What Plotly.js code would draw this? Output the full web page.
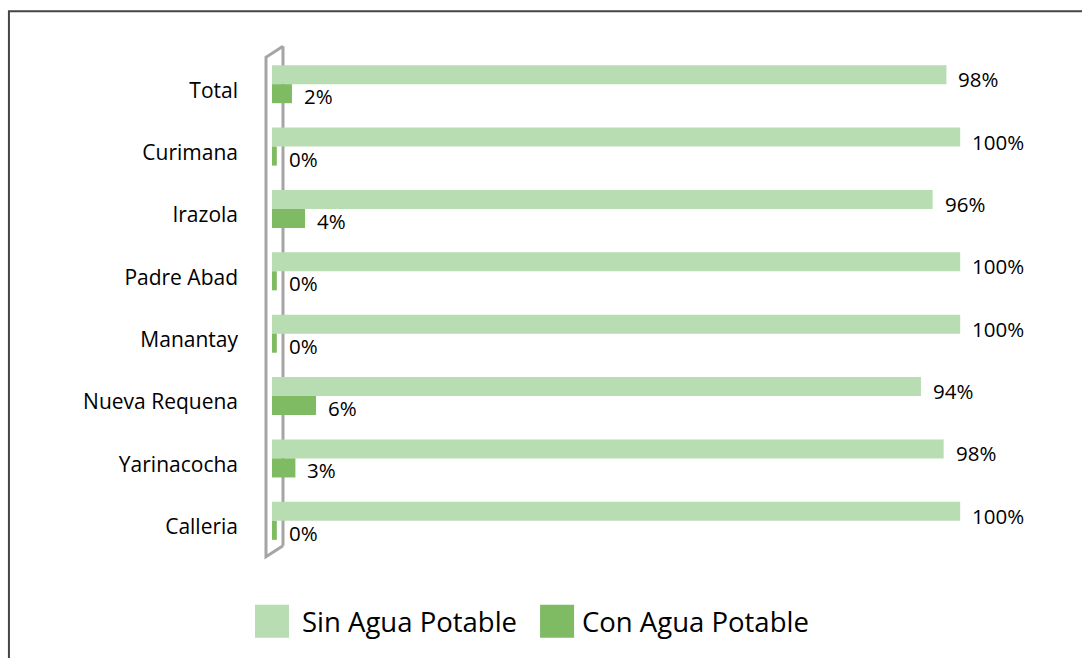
<!DOCTYPE html>
<html>
<head>
<meta charset="utf-8">
<script src="https://cdn.plot.ly/plotly-3.0.1.min.js"></script>
<style>
  html, body { margin: 0; padding: 0; background: #fff; }
  #chart { width: 1082px; height: 658px; }
</style>
</head>
<body>
<div id="chart"></div>
<script>
// ---- data ----
const categories = ["Total", "Curimana", "Irazola", "Padre Abad", "Manantay", "Nueva Requena", "Yarinacocha", "Calleria"];
const seriesNames = ["Sin Agua Potable", "Con Agua Potable"];
const sinValues = [98, 100, 96, 100, 100, 94.3, 97.6, 100];
const conValues = [2.9, 0.7, 4.8, 0.7, 0.7, 6.4, 3.4, 0.7];
const sinLabels = ["98%", "100%", "96%", "100%", "100%", "94%", "98%", "100%"];
const conLabels = ["2%", "0%", "4%", "0%", "0%", "6%", "3%", "0%"];

// ---- layout geometry ----
const FIG_W = 1082, FIG_H = 658;
const M = { l: 272, r: 53.2, t: 52.8, b: 105.8 };
const PW = FIG_W - M.l - M.r, PH = FIG_H - M.t - M.b;
const px = X => (X - M.l) / PW;
const py = Y => (FIG_H - M.b - Y) / PH;

const colSin = "#b9ddb2";
const colCon = "#7fbb63";
const font = "'Open Sans', 'Noto Sans', sans-serif";
const txtCol = "#000";

const traces = [
  { type: "bar", orientation: "h", name: seriesNames[0], y: categories, x: sinValues,
    marker: { color: colSin }, showlegend: false, hoverinfo: "skip" },
  { type: "bar", orientation: "h", name: seriesNames[1], y: categories, x: conValues,
    marker: { color: colCon }, showlegend: false, hoverinfo: "skip" }
];

const annotations = [];
categories.forEach((c, i) => {
  annotations.push({ x: sinValues[i], y: c, xref: "x", yref: "y", text: sinLabels[i],
    showarrow: false, xanchor: "left", yanchor: "middle", xshift: 10, yshift: 5,
    font: { family: font, size: 20.5, color: txtCol } });
  annotations.push({ x: conValues[i], y: c, xref: "x", yref: "y", text: conLabels[i],
    showarrow: false, xanchor: "left", yanchor: "middle", xshift: 10, yshift: -12,
    font: { family: font, size: 20.5, color: txtCol } });
});

// custom legend
const legendItems = [
  { x0: 255, x1: 289, tx: 300, color: colSin, name: seriesNames[0] },
  { x0: 540, x1: 574, tx: 580, color: colCon, name: seriesNames[1] }
];
const shapes = [];
legendItems.forEach(it => {
  shapes.push({ type: "rect", xref: "paper", yref: "paper",
    x0: px(it.x0), x1: px(it.x1), y0: py(638), y1: py(605),
    fillcolor: it.color, line: { width: 0 } });
  annotations.push({ xref: "paper", yref: "paper", x: px(it.tx), y: py(621.5),
    xanchor: "left", yanchor: "middle", showarrow: false, text: it.name,
    font: { family: font, size: 27.5, color: txtCol } });
});

// 3D wall bracket
const gray = "#a5a5a5";
shapes.push({ type: "line", xref: "paper", yref: "paper", layer: "below",
  x0: px(283), x1: px(283), y0: py(46), y1: py(546), line: { color: gray, width: 3 } });
shapes.push({ type: "path", xref: "paper", yref: "paper", layer: "above",
  path: `M ${px(283)} ${py(46)} L ${px(266)} ${py(57)} L ${px(266)} ${py(557)} L ${px(283)} ${py(546)}`,
  line: { color: gray, width: 3 } });

// outer frame
shapes.push({ type: "path", xref: "paper", yref: "paper",
  path: `M ${px(1090)} ${py(11)} L ${px(9)} ${py(11)} L ${px(9)} ${py(670)}`,
  line: { color: "#454545", width: 2 } });

const layout = {
  width: FIG_W, height: FIG_H,
  margin: M,
  paper_bgcolor: "#fff", plot_bgcolor: "rgba(0,0,0,0)",
  barmode: "group", bargap: 0.39, bargroupgap: 0,
  showlegend: false,
  font: { family: font, size: 20, color: txtCol },
  xaxis: { range: [0, 110], visible: false, fixedrange: true },
  yaxis: { autorange: "reversed", showgrid: false, zeroline: false, showline: false,
    ticks: "", ticklabelstandoff: 33, ticklabelshift: -6,
    tickfont: { family: font, size: 21, color: txtCol }, fixedrange: true },
  shapes: shapes,
  annotations: annotations
};

Plotly.newPlot("chart", traces, layout, { displayModeBar: false, staticPlot: true });
</script>
</body>
</html>
